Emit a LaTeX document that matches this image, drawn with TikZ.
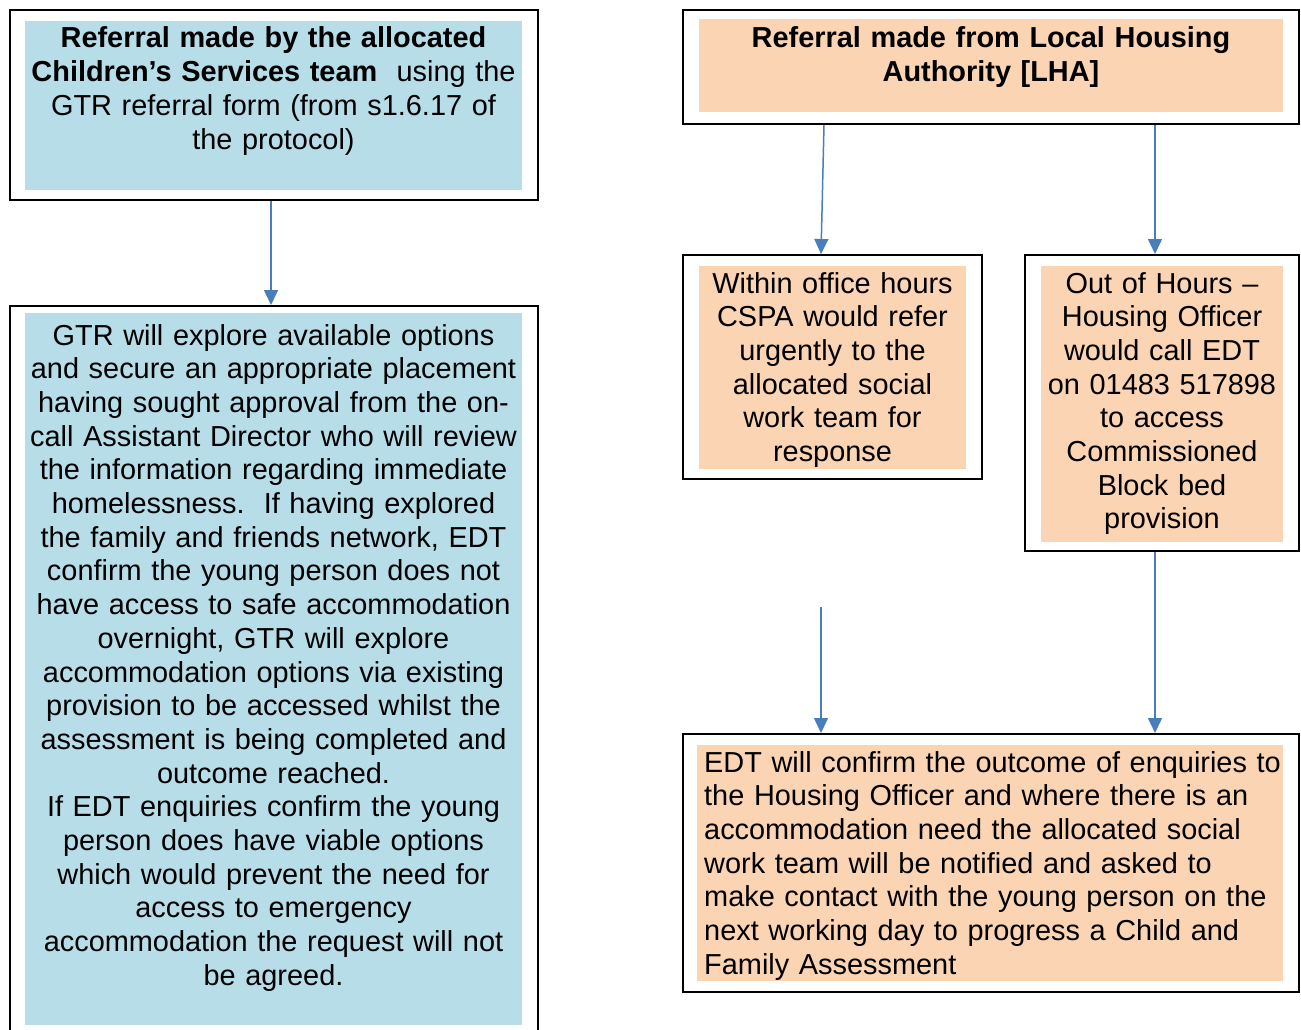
\documentclass[tikz,border=0pt]{standalone}
\usepackage{fontspec}
\setmainfont{Liberation Sans}
\usetikzlibrary{arrows.meta}
\definecolor{boxblue}{HTML}{B7DDE8}
\definecolor{boxpeach}{HTML}{FBD4B4}
\definecolor{arrowblue}{HTML}{4A7EBB}
\begin{document}
\begin{tikzpicture}[x=1pt,y=-1pt,
  outerbox/.style={draw=black, line width=2pt, inner sep=0pt, rectangle},
  bluefill/.style={fill=boxblue, draw=none, inner sep=0pt, rectangle},
  peachfill/.style={fill=boxpeach, draw=none, inner sep=0pt, rectangle},
  txt/.style={inner sep=0pt, text width=600pt, align=center, font=\fontsize{28.9}{33.7}\selectfont},
  txtleft/.style={inner sep=0pt, text width=600pt, align=left, font=\fontsize{28.9}{33.7}\selectfont},
  flow/.style={draw=arrowblue, line width=1.5pt, -{Triangle[length=15pt,width=14pt]}}]
\useasboundingbox (0,0) rectangle (1301,1030);
\clip (0,0) rectangle (1301,1030);

% Box A
\node[outerbox, minimum width=528pt, minimum height=190pt] (A) at (274,105) {};
\node[bluefill, minimum width=497pt, minimum height=169pt] (Af) at (273.5,105.5) {};
\node[txt, anchor=base] (At) at (273.5,48) {\textbf{Referral made by the allocated}\\
\textbf{Children’s Services team}\ \ using the\\
GTR referral form (from s1.6.17 of\\
the protocol)};

% Box B
\node[outerbox, minimum width=528pt, minimum height=734pt] (B) at (274,673) {};
\node[bluefill, minimum width=497pt, minimum height=712pt] (Bf) at (273.5,669) {};
\node[txt, anchor=base] (Bt) at (273.5,345) {GTR will explore available options\\
and secure an appropriate placement\\
having sought approval from the on-\\
call Assistant Director who will review\\
the information regarding immediate\\
homelessness.\ \ If having explored\\
the family and friends network, EDT\\
confirm the young person does not\\
have access to safe accommodation\\
overnight, GTR will explore\\
accommodation options via existing\\
provision to be accessed whilst the\\
assessment is being completed and\\
outcome reached.\\
If EDT enquiries confirm the young\\
person does have viable options\\
which would prevent the need for\\
access to emergency\\
accommodation the request will not\\
be agreed.};

% Box C
\node[outerbox, minimum width=616pt, minimum height=114pt] (C) at (991,67) {};
\node[peachfill, minimum width=584pt, minimum height=93pt] (Cf) at (991,65.5) {};
\node[txt, anchor=base, font=\fontsize{28.9}{33.7}\selectfont\bfseries] (Ct) at (991,48) {Referral made from Local Housing\\
Authority [LHA]};

% Box D
\node[outerbox, minimum width=299pt, minimum height=224pt] (D) at (832.5,367) {};
\node[peachfill, minimum width=267pt, minimum height=203pt] (Df) at (832.5,367.5) {};
\node[txt, anchor=base] (Dt) at (832.5,293) {Within office hours\\
CSPA would refer\\
urgently to the\\
allocated social\\
work team for\\
response};

% Box E
\node[outerbox, minimum width=274pt, minimum height=296pt] (E) at (1162,403) {};
\node[peachfill, minimum width=242pt, minimum height=276pt] (Ef) at (1162,404) {};
\node[txt, anchor=base] (Et) at (1162,293) {Out of Hours –\\
Housing Officer\\
would call EDT\\
on 01483 517898\\
to access\\
Commissioned\\
Block bed\\
provision};

% Box F
\node[outerbox, minimum width=616pt, minimum height=258pt] (F) at (991,863) {};
\node[peachfill, minimum width=586pt, minimum height=236pt] (Ff) at (990,863) {};
\node[txtleft, anchor=base west] (Ft) at (704,772) {EDT will confirm the outcome of enquiries to\\
the Housing Officer and where there is an\\
accommodation need the allocated social\\
work team will be notified and asked to\\
make contact with the young person on the\\
next working day to progress a Child and\\
Family Assessment};

% Connectors
\coordinate (fa) at (821,607);
\draw[flow] ([xshift=-3pt]A.south) -- ([xshift=-3pt]B.north);
\draw[flow] ([xshift=-167pt]C.south) -- ([xshift=-11.5pt]D.north);
\draw[flow] ([xshift=164pt]C.south) -- ([xshift=-7pt]E.north);
\draw[flow] ([xshift=-7pt]E.south) -- ([xshift=164pt]F.north);
\draw[flow] (fa) -- ([xshift=-170pt]F.north);
\end{tikzpicture}
\end{document}
